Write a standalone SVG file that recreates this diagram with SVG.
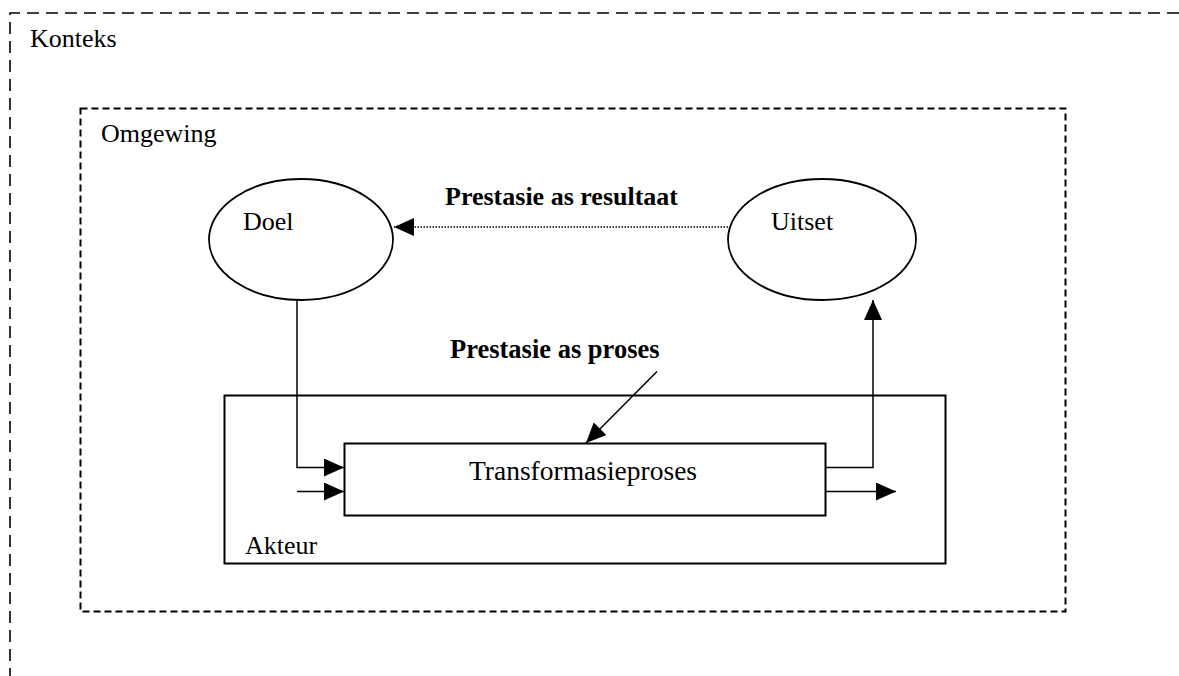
<svg xmlns="http://www.w3.org/2000/svg" width="1179" height="676" viewBox="0 0 1179 676">
<style>
text{font-family:"Liberation Serif","Times New Roman",serif;font-size:26px;fill:#000}
.b{font-weight:bold}
.frame{fill:none;stroke:#000}
.solid{fill:none;stroke:#000;stroke-width:2}
.ell{fill:#fff;stroke:#000;stroke-width:1.8}
.con{fill:none;stroke:#000;stroke-width:1.5}
</style>
<defs>
<marker id="ah" viewBox="0 0 20 18" refX="20" refY="9" markerWidth="20" markerHeight="18" markerUnits="userSpaceOnUse" orient="auto">
<path d="M0,0 L20,9 L0,18 z" fill="#000" stroke="none"/>
</marker>
</defs>
<rect width="1179" height="676" fill="#fff"/>
<g id="konteks">
<path class="frame" d="M1179,13 H10 V676" stroke-width="1.6" stroke-dasharray="12 7"/>
<text x="30" y="47">Konteks</text>
</g>
<g id="omgewing">
<rect class="frame" x="80.5" y="108.5" width="985" height="503" stroke-width="2" stroke-dasharray="7 4"/>
<text x="101" y="142">Omgewing</text>
</g>
<g id="akteur">
<rect class="solid" x="224.5" y="395.5" width="721" height="168"/>
<text x="245" y="554">Akteur</text>
</g>
<g id="doel">
<ellipse class="ell" cx="301" cy="239.5" rx="92" ry="60.5"/>
<text x="243" y="230">Doel</text>
</g>
<g id="uitset">
<ellipse class="ell" cx="822" cy="239.5" rx="94" ry="60.5"/>
<text x="771" y="230">Uitset</text>
</g>
<g id="transformasieproses">
<rect class="solid" x="344.5" y="443.5" width="481" height="72" fill="#fff"/>
<text x="583" y="480" text-anchor="middle" style="font-size:27.5px">Transformasieproses</text>
</g>
<g id="connectors">
<path class="con" d="M728,227 H394" stroke-dasharray="1.5 1.5" marker-end="url(#ah)"/>
<text class="b" x="445" y="205">Prestasie as resultaat</text>
<path class="con" d="M297,300 V467.5 H344" marker-end="url(#ah)"/>
<path class="con" d="M297,491.5 H344" marker-end="url(#ah)"/>
<path class="con" d="M825,467.5 H873 V300" marker-end="url(#ah)"/>
<path class="con" d="M825,491.5 H896" marker-end="url(#ah)"/>
<path class="con" d="M657,371.5 L586,443" marker-end="url(#ah)"/>
<text class="b" x="450" y="358" style="font-size:26.5px">Prestasie as proses</text>
</g>
</svg>
